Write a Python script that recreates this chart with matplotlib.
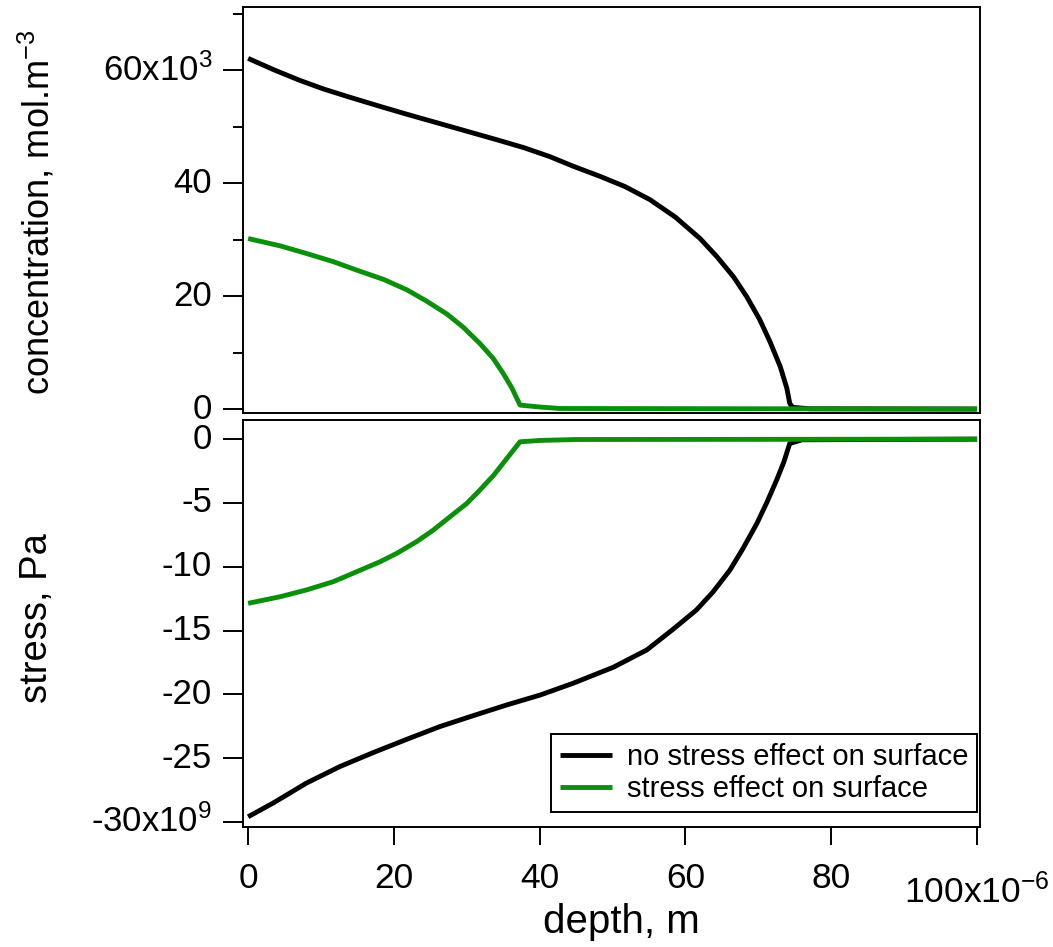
import matplotlib
matplotlib.use("Agg")
import matplotlib.pyplot as plt
from matplotlib.ticker import FixedLocator

plt.rcParams['font.family'] = ['Liberation Sans', 'DejaVu Sans']
plt.rcParams['mathtext.fontset'] = 'custom'
plt.rcParams['mathtext.rm'] = 'Liberation Sans'
plt.rcParams['mathtext.it'] = 'Liberation Sans:italic'
plt.rcParams['mathtext.bf'] = 'Liberation Sans:bold'

# ---- data (depth in 1e-6 m, concentration in 1e3 mol/m^3, stress in 1e9 Pa) ----
conc_nostress_x = [0, 3.5, 7.1, 10.3, 14.0, 18.1, 21.8, 25.9, 30.0, 34.1, 37.8, 41.4, 44.6,
                   48.3, 51.7, 55.1, 58.6, 62.0, 64.3, 66.6, 68.4, 70.2, 71.6, 73.0, 73.9,
                   74.3, 74.7, 77, 100]
conc_nostress_y = [62.1, 60.1, 58.2, 56.7, 55.2, 53.6, 52.2, 50.7, 49.2, 47.7, 46.3, 44.7, 43.0,
                   41.2, 39.4, 37.1, 34.0, 30.2, 27.0, 23.4, 19.9, 15.8, 11.9, 7.5, 3.7,
                   1.0, 0.3, 0.05, 0.0]

conc_stress_x = [0, 4.4, 8.0, 11.7, 14.9, 18.6, 21.8, 24.5, 27.3, 29.5, 31.8, 33.6, 35.0,
                 36.2, 37.3, 40.1, 42.8, 100]
conc_stress_y = [30.2, 28.9, 27.55, 26.1, 24.6, 22.95, 21.1, 19.1, 16.8, 14.5, 11.6, 9.0, 6.3,
                 3.7, 0.7, 0.35, 0.1, 0.0]

stress_nostress_x = [0, 3.5, 8.0, 12.6, 17.2, 21.8, 26.3, 30.9, 35.5, 40.1, 44.6, 50.1, 54.7,
                     58.3, 61.5, 63.8, 66.1, 67.9, 69.8, 71.2, 72.5, 73.5, 74.3, 76, 100]
stress_nostress_y = [-29.6, -28.5, -26.96, -25.66, -24.56, -23.52, -22.53, -21.67, -20.83, -20.05,
                     -19.13, -17.88, -16.52, -14.9, -13.39, -11.96, -10.26, -8.56, -6.6, -4.91,
                     -3.21, -1.78, -0.34, -0.05, 0.0]

stress_stress_x = [0, 4.4, 8.0, 11.7, 14.9, 18.1, 20.4, 23.1, 25.4, 27.7, 30.0, 31.8, 33.7,
                   35.5, 37.3, 40.1, 45, 100]
stress_stress_y = [-12.87, -12.35, -11.82, -11.17, -10.39, -9.61, -8.95, -8.04, -7.13, -6.08,
                   -5.04, -3.99, -2.82, -1.51, -0.21, -0.1, -0.03, 0.0]

x_ticks = [0, 20, 40, 60, 80, 100]
x_ticklabels = ['0', '20', '40', '60', '80', '100x10$^{-6}$']
conc_ticks = [0, 20, 40, 60]
conc_ticklabels = ['0', '20', '40', '60x10$^{3}$']
conc_minor = [10, 30, 50, 70]
stress_ticks = [0, -5, -10, -15, -20, -25, -30]
stress_ticklabels = ['0', '-5', '-10', '-15', '-20', '-25', '-30x10$^{9}$']

legend_labels = ['no stress effect on surface', 'stress effect on surface']

BLACK = '#000000'
GREEN = '#0a900a'

W, H = 1053, 947
fig = plt.figure(figsize=(W / 100, H / 100), dpi=100)

def fx(px):
    return px / W

def fy(py):
    return 1 - py / H

left, right = 243, 980
ax1 = fig.add_axes([fx(left), fy(413), fx(right - left), (413 - 7) / H])
ax2 = fig.add_axes([fx(left), fy(827), fx(right - left), (827 - 420) / H])

lw = 3.5
for ax in (ax1, ax2):
    for s in ax.spines.values():
        s.set_linewidth(1.4)
    ax.set_xlim(-0.7, 100.4)

ax1.plot(conc_nostress_x, conc_nostress_y, color=BLACK, lw=lw, solid_capstyle='butt')
ax1.plot(conc_stress_x, conc_stress_y, color=GREEN, lw=lw, solid_capstyle='butt')
ax2.plot(stress_nostress_x, stress_nostress_y, color=BLACK, lw=lw, solid_capstyle='butt',
         label=legend_labels[0])
ax2.plot(stress_stress_x, stress_stress_y, color=GREEN, lw=lw, solid_capstyle='butt',
         label=legend_labels[1])

ax1.set_ylim(-0.7, 71.2)
ax2.set_ylim(-30.4, 1.5)

ax1.set_yticks(conc_ticks)
ax1.set_yticklabels(conc_ticklabels)
ax1.yaxis.set_minor_locator(FixedLocator(conc_minor))
ax1.tick_params(axis='x', which='both', bottom=False, labelbottom=False)
ax1.tick_params(axis='y', which='major', direction='out', length=14.4, width=1.4, pad=8, labelsize=25)
ax1.tick_params(axis='y', which='minor', direction='out', length=7.2, width=1.4)

ax2.set_yticks(stress_ticks)
ax2.set_yticklabels(stress_ticklabels)
ax2.set_xticks(x_ticks)
ax2.set_xticklabels(x_ticklabels)
ax2.tick_params(axis='y', which='major', direction='out', length=14.4, width=1.4, pad=8, labelsize=25)
ax2.tick_params(axis='x', which='major', direction='out', length=13, width=1.4, pad=12, labelsize=25.5)

for ax in (ax1, ax2):
    for lbl in ax.get_yticklabels():
        lbl.set_verticalalignment('center')

# the exponent label on the depth axis sits a little lower than the others
ax2.xaxis.get_major_ticks()[-1].label1.set_y(-12 / 407)

leg = ax2.legend(loc='lower right', bbox_to_anchor=((977 - left) / (right - left), (827 - 812) / 407),
                 borderaxespad=0, fontsize=21, frameon=True, fancybox=False, framealpha=1,
                 edgecolor='black', handlelength=1.8, handletextpad=0.5, labelspacing=0.15,
                 borderpad=0.3)
leg.get_frame().set_linewidth(1.4)

fig.text(fx(37), fy(212), 'concentration, mol.m$^{-3}$', rotation=90, ha='center', va='center', fontsize=26)
fig.text(fx(37), fy(618), 'stress, Pa', rotation=90, ha='center', va='center', fontsize=27.5)
fig.text(fx(621), fy(922), 'depth, m', ha='center', va='center', fontsize=29)

fig.savefig('out.png', dpi=100)
